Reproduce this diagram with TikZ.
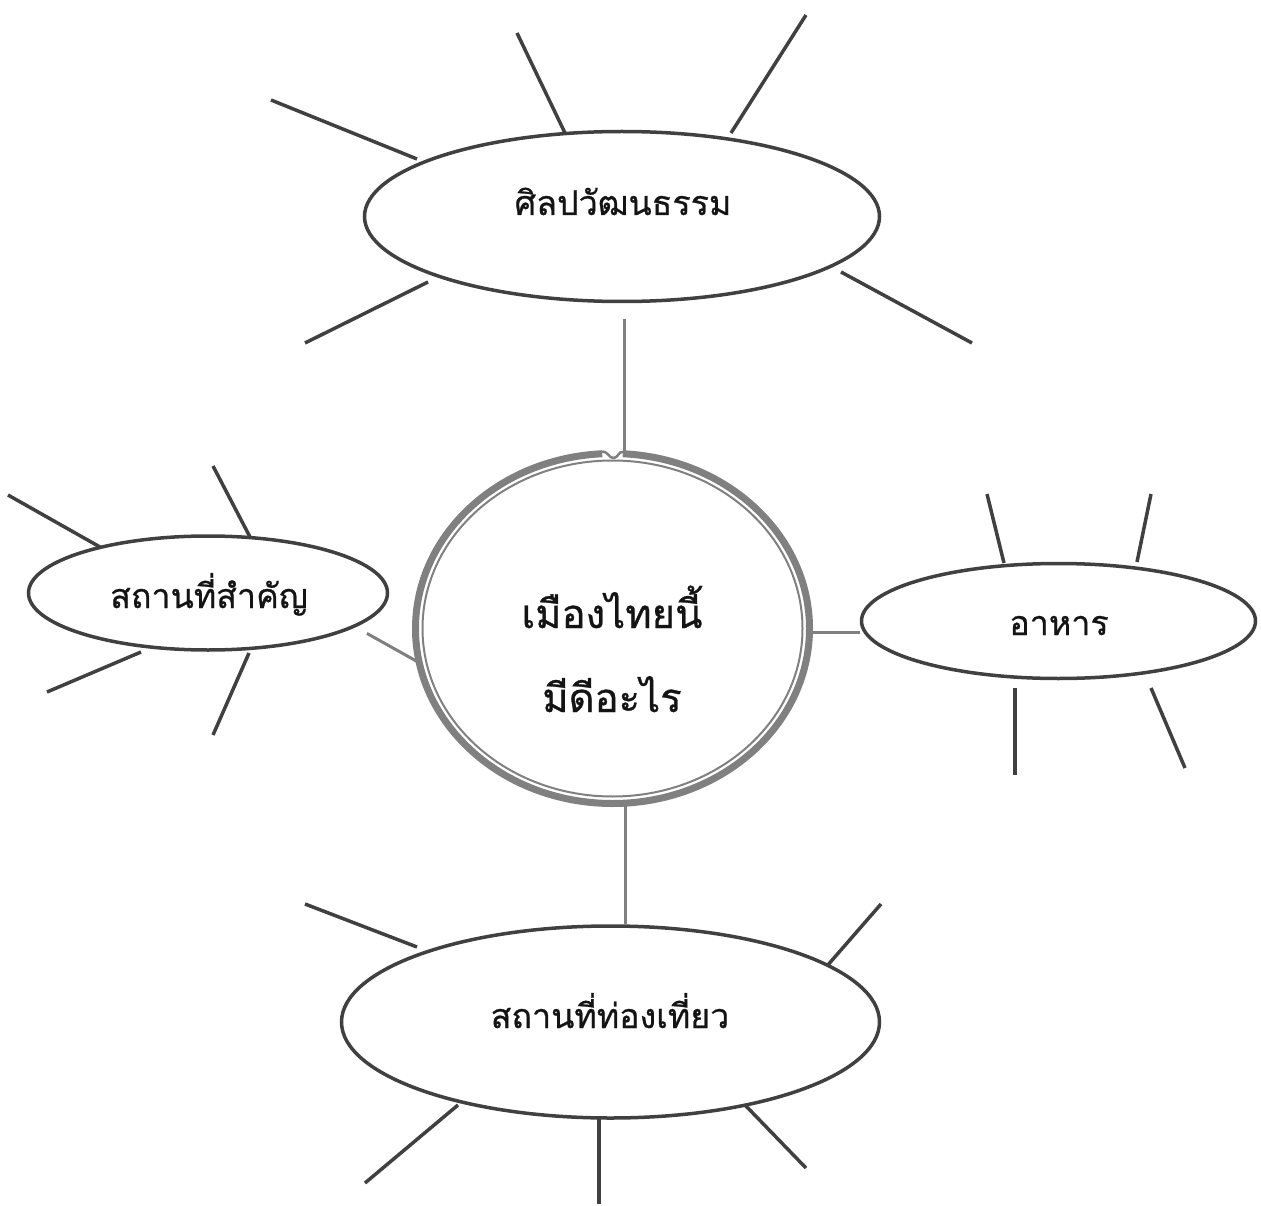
\documentclass[tikz,border=0pt]{standalone}
\usepackage{fontspec}
\newfontfamily\thaifont[Script=Thai,FakeBold=0.7]{Loma}
\usetikzlibrary{shapes.geometric}
\definecolor{dk}{HTML}{404040}
\definecolor{gr}{HTML}{808080}
\definecolor{tx}{HTML}{141414}
\begin{document}
\begin{tikzpicture}[x=1pt,y=-1pt,
  bubble/.style={ellipse,draw=dk,line width=3.5pt,inner sep=0pt,fill=white},
  spoke/.style={draw=dk,line width=3.5pt},
  link/.style={draw=gr,line width=3pt},
  lab/.style={font=\thaifont\fontsize{34}{40}\selectfont,text=tx,anchor=base,inner sep=0pt},
  biglab/.style={font=\thaifont\fontsize{40}{46}\selectfont,text=tx,anchor=base,inner sep=0pt}]
\useasboundingbox (0,0) rectangle (1261,1206);

% spokes
\draw[spoke] (271,100)--(417,159);
\draw[spoke] (517,33)--(565,133);
\draw[spoke] (806,15)--(731,133);
\draw[spoke] (305,343)--(428,282);
\draw[spoke] (841,272)--(972,343);

\draw[spoke] (8,495)--(100,547);
\draw[spoke] (213,466)--(250,537);
\draw[spoke] (47,692)--(141,652);
\draw[spoke] (213,735)--(249,653);

\draw[spoke] (987,494)--(1004,563);
\draw[spoke] (1151,494)--(1137,562);
\draw[spoke] (1015,688)--(1015,775);
\draw[spoke] (1151,688)--(1185,768);

\draw[spoke] (305,904)--(417,947);
\draw[spoke] (881,904)--(827,966);
\draw[spoke] (365,1183)--(458,1105);
\draw[spoke] (599,1117)--(599,1204);
\draw[spoke] (745,1105)--(806,1168);

% nodes
\node[bubble,minimum width=515pt,minimum height=170pt] (art) at (622,216.5) {};
\node[bubble,minimum width=359pt,minimum height=114pt] (imp) at (208,593) {};
\node[bubble,minimum width=394pt,minimum height=115pt] (food) at (1058.5,621) {};
\node[bubble,minimum width=538pt,minimum height=192pt] (tour) at (610.5,1022) {};
\node[ellipse,inner sep=0pt,minimum width=394pt,minimum height=350pt] (c) at (612.5,628.5) {};

% centre rings
\draw[gr,line width=7pt] (c.center) ++(273:197 and 175) arc[start angle=273,end angle=627,x radius=197,y radius=175];
\draw[gr,line width=2pt] (c.center) ellipse[x radius=190,y radius=168];
\draw[gr,line width=2.5pt] (601,452) .. controls (608,450) and (609,459) .. (614,458) .. controls (619,457) and (618,451) .. (624,452);

% connectors
\draw[link,shorten <=16pt] ([xshift=2pt]art.south) -- ([xshift=11.5pt]c.north);
\draw[link] ([xshift=12.5pt]c.south) -- ([xshift=14.5pt]tour.north);
\draw[link] ([yshift=-3.5pt]c.east) -- ([yshift=-11pt]food.west);
\draw[link,shorten <=13pt] (imp.-13) -- (c.190);

% labels
\node[lab] (tart) at (623,215) {ศิลปวัฒนธรรม};
\node[lab] (timp) at (209,608) {สถานที่สำคัญ};
\node[lab] (tfood) at (1059,635) {อาหาร};
\node[lab] (ttour) at (610,1028) {สถานที่ท่องเที่ยว};
\node[biglab] (tc1) at (612,628) {เมืองไทยนี้};
\node[biglab] (tc2) at (612,712) {มีดีอะไร};
\end{tikzpicture}
\end{document}
